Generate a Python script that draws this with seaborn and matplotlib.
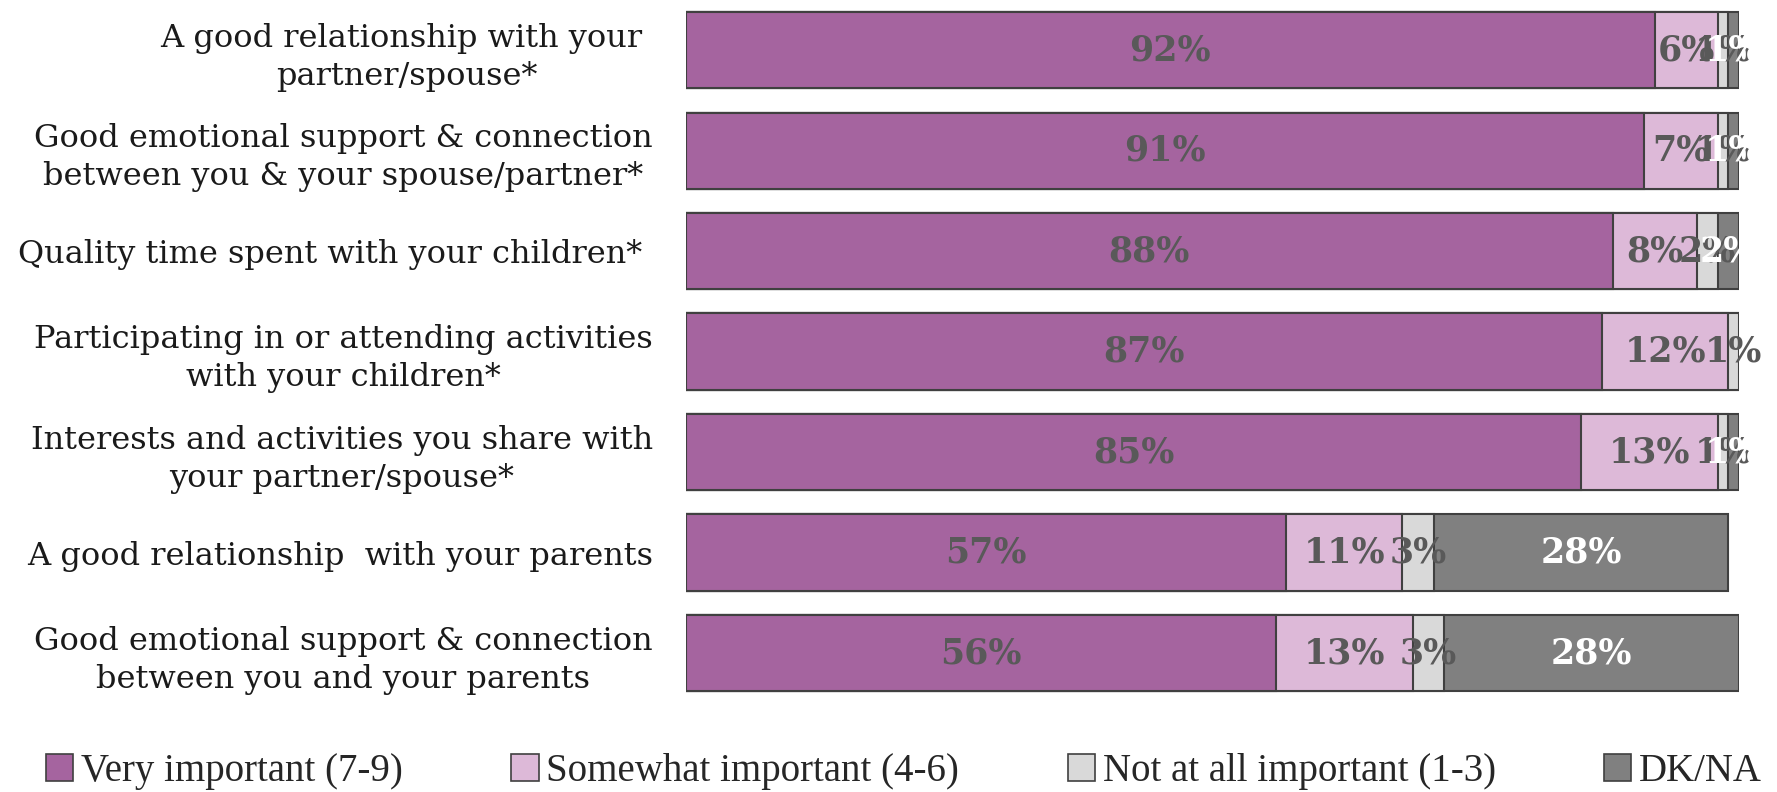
import pandas as pd
import matplotlib.pyplot as plt
import seaborn as sns
from matplotlib.patches import Patch

# Datos
categories = [
    "A good relationship with your \npartner/spouse*",
    "Good emotional support & connection\nbetween you & your spouse/partner*",
    "Quality time spent with your children* ",
    "Participating in or attending activities\nwith your children*",
    "Interests and activities you share with\nyour partner/spouse*",
    "A good relationship  with your parents",
    "Good emotional support & connection\nbetween you and your parents",
]
very = [92, 91, 88, 87, 85, 57, 56]
somewhat = [6, 7, 8, 12, 13, 11, 13]
not_at_all = [1, 1, 2, 1, 1, 3, 3]
dk_na = [1, 1, 2, 0, 1, 28, 28]
series_names = ["Very important (7-9)", "Somewhat important (4-6)",
                "Not at all important (1-3)", "DK/NA"]
colors = ["#A5649F", "#DDB9D8", "#D9D9D9", "#808080"]
label_colors = ["#595959", "#595959", "#595959", "white"]

df = pd.DataFrame({series_names[0]: very, series_names[1]: somewhat,
                   series_names[2]: not_at_all, series_names[3]: dk_na},
                  index=categories)
cum = df.cumsum(axis=1)

sns.set_theme(style="white")
plt.rcParams['font.family'] = ['DejaVu Serif']

fig = plt.figure(figsize=(17.77, 7.92), dpi=100)
ax = fig.add_axes([686 / 1777, 0.112, 1053 / 1777, 0.888])

# Barras apiladas: se dibuja el acumulado de mayor a menor
for i in reversed(range(4)):
    sns.barplot(x=cum.iloc[:, i].values, y=categories, color=colors[i],
                saturation=1, width=0.76, edgecolor="#404040", linewidth=1.5,
                orient="h", ax=ax)

# Etiquetas de porcentaje
for r in range(len(categories)):
    for i in range(4):
        v = df.iloc[r, i]
        if v <= 0:
            continue
        xc = cum.iloc[r, i] - v / 2
        ax.text(xc, r, f"{v}%", ha="center", va="center", fontsize=25,
                fontweight="bold", color=label_colors[i])

ax.set_xlim(0, 100)
ax.set_ylim(6.5, -0.5)
ax.set_xticks([])
ax.set_xlabel("")
ax.set_ylabel("")
sns.despine(ax=ax, left=True, bottom=True)
ax.tick_params(axis="y", length=0, pad=24, labelsize=23)
for lbl in ax.get_yticklabels():
    lbl.set_multialignment("center")
    lbl.set_color("#1a1a1a")
    lbl.set_linespacing(1.3)

handles = [Patch(facecolor=colors[i], edgecolor="#404040", linewidth=1.2)
           for i in range(4)]
fig.legend(handles, series_names, loc="center left", ncol=4, mode="expand",
           bbox_to_anchor=(46 / 1777, 0.0, 1716 / 1777, 0.052), frameon=False,
           prop={"family": "Liberation Serif", "size": 28},
           handlelength=0.7, handleheight=0.7, handletextpad=0.2,
           borderaxespad=0.0, borderpad=0.0)

fig.savefig("out.png", dpi=100)
